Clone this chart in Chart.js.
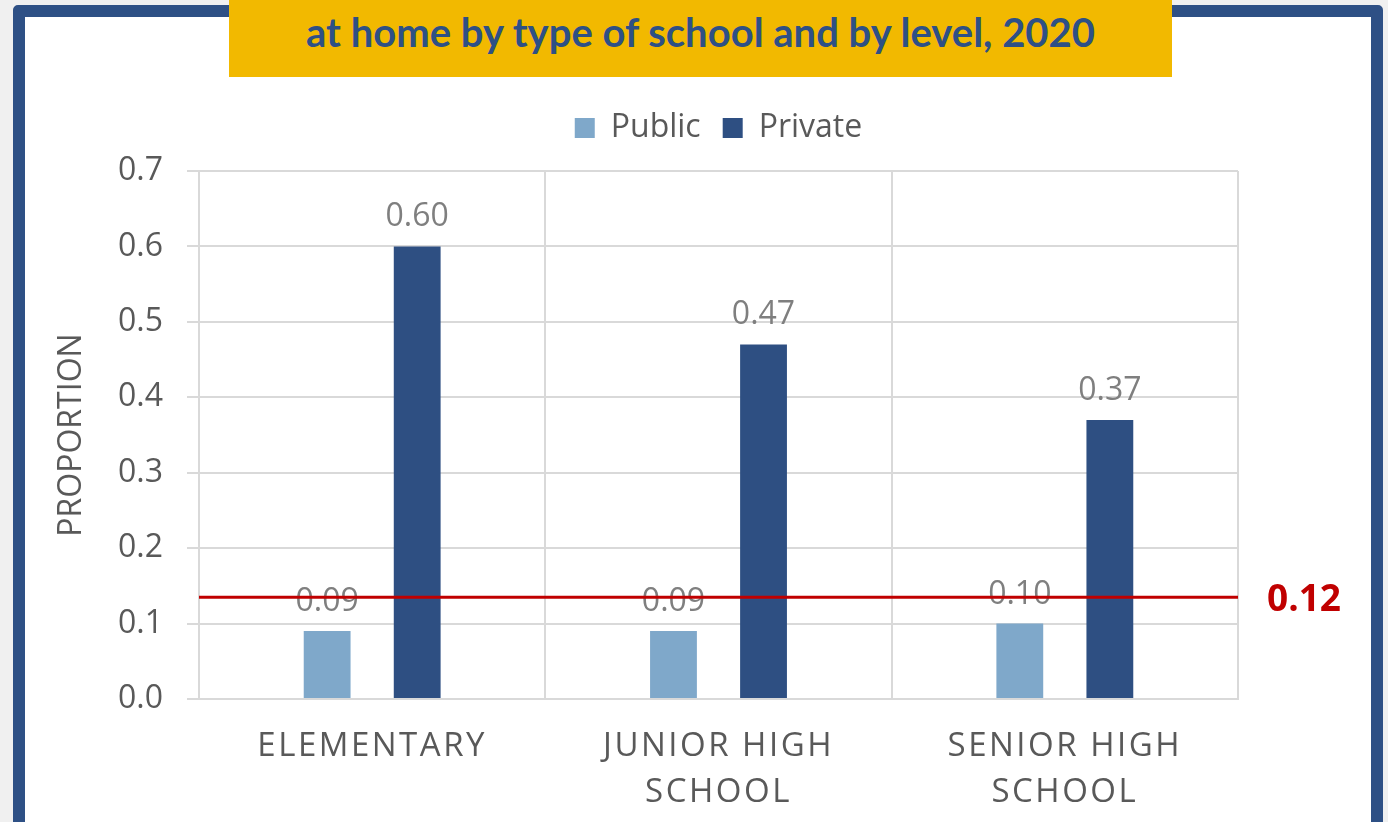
<!DOCTYPE html>
<html lang="en">
<head>
<meta charset="utf-8" />
<title>Proportion at home by type of school and by level, 2020</title>
<style>
  body { margin: 0; background: #f0f0f0; width: 1388px; height: 822px; overflow: hidden; position: relative; }
  .frame { position: absolute; left: 13px; top: 5px; width: 1370px; height: 830px; box-sizing: border-box; border: 12px solid #2e5085; border-radius: 5px; background: #fff; }
  .banner { position: absolute; left: 229px; top: 0; width: 943px; height: 77px; box-sizing: border-box; padding-top: 8px; background: #f2b900; color: #2e5085; font: bold 40px Lato, sans-serif; line-height: 48px; text-align: center; }
  #chart { position: absolute; left: 0; top: 0; }
</style>
</head>
<body>
<div class="frame"></div>
<div class="banner">at home by type of school and by level, 2020</div>
<canvas id="chart" width="1388" height="822"></canvas>

<script src="https://cdn.jsdelivr.net/npm/chart.js"></script>
<script>
    const categories = [['ELEMENTARY'], ['JUNIOR HIGH', 'SCHOOL'], ['SENIOR HIGH', 'SCHOOL']];
    const publicValues = [0.09, 0.09, 0.10];
    const privateValues = [0.60, 0.47, 0.37];
    const yTickLabels = ['0.0', '0.1', '0.2', '0.3', '0.4', '0.5', '0.6', '0.7'];
    const refLineValue = [0.135];
    const refLineLabel = ['0.12'];

    Chart.defaults.font.family = "'Open Sans', sans-serif";

    // values above the bars
    const valueLabels = {
        id: 'valueLabels',
        afterDatasetsDraw(chart) {
            const ctx = chart.ctx;
            ctx.save();
            ctx.font = "32px 'Open Sans'";
            ctx.fillStyle = '#7f7f7f';
            ctx.textAlign = 'center';
            ctx.textBaseline = 'alphabetic';
            chart.data.datasets.forEach((ds, i) => {
                chart.getDatasetMeta(i).data.forEach((bar, j) => {
                    ctx.fillText(ds.data[j].toFixed(2), bar.x, bar.y - 20);
                });
            });
            ctx.restore();
        }
    };

    // red reference line + its label on the right
    const refLine = {
        id: 'refLine',
        afterDraw(chart) {
            const {ctx, chartArea, scales} = chart;
            const y = scales.y.getPixelForValue(refLineValue[0]);
            ctx.save();
            ctx.strokeStyle = '#c00000';
            ctx.lineWidth = 3;
            ctx.beginPath();
            ctx.moveTo(chartArea.left, y);
            ctx.lineTo(chartArea.right, y);
            ctx.stroke();
            ctx.font = "bold 37px 'Open Sans'";
            ctx.fillStyle = '#c00000';
            ctx.textAlign = 'left';
            ctx.textBaseline = 'middle';
            ctx.fillText(refLineLabel[0], chartArea.right + 29, y + 3);
            ctx.restore();
        }
    };

    // letter spacing for the category labels
    const spacedLabels = {
        id: 'spacedLabels',
        beforeDraw(chart) {
            const sx = chart.scales.x;
            if (sx._spaced) return;
            const draw = sx.drawLabels;
            sx.drawLabels = function (area) {
                this.ctx.save();
                this.ctx.letterSpacing = '2.5px';
                draw.call(this, area);
                this.ctx.restore();
            };
            sx._spaced = true;
        }
    };

    new Chart(document.getElementById('chart'), {
        type: 'bar',
        data: {
            labels: categories,
            datasets: [{
                label: 'Public',
                data: publicValues,
                backgroundColor: '#7fa8ca',
                categoryPercentage: 0.52,
                barPercentage: 0.52
            }, {
                label: 'Private',
                data: privateValues,
                backgroundColor: '#2e4f82',
                categoryPercentage: 0.52,
                barPercentage: 0.52
            }]
        },
        options: {
            responsive: false,
            animation: false,
            devicePixelRatio: 1,
            layout: { padding: { top: 90, left: 40, right: 150, bottom: 0 } },
            plugins: {
                legend: {
                    position: 'top',
                    fullSize: false,
                    labels: { boxWidth: 20, boxHeight: 20, padding: 22, color: '#595959', font: { size: 32 } }
                },
                // empty spacer between legend and plot
                title: { display: true, text: ' ', weight: 500, fullSize: false, font: { size: 1, lineHeight: 1 }, padding: { top: 8, bottom: 8 } },
                tooltip: { enabled: false }
            },
            scales: {
                x: {
                    ticks: { padding: 25, maxRotation: 0, autoSkip: false, color: '#595959', font: { size: 33, lineHeight: 1.394 } },
                    grid: { color: '#d9d9d9', lineWidth: 2, drawTicks: false, offset: true },
                    border: { color: '#d9d9d9', width: 2 },
                    afterFit(s) { s.height = 123; }
                },
                y: {
                    min: 0,
                    max: 0.7,
                    ticks: {
                        stepSize: 0.1,
                        padding: 24,
                        color: '#595959',
                        font: { size: 32 },
                        callback: (v, i) => yTickLabels[i]
                    },
                    grid: { color: '#d9d9d9', lineWidth: 2, tickLength: 12 },
                    border: { display: false },
                    title: { display: true, text: 'PROPORTION', color: '#595959', font: { size: 32 }, padding: { top: 13, bottom: 0 } },
                    afterFit(s) { s.width = 159; }
                }
            }
        },
        plugins: [valueLabels, refLine, spacedLabels]
    });
</script>
</body>
</html>
